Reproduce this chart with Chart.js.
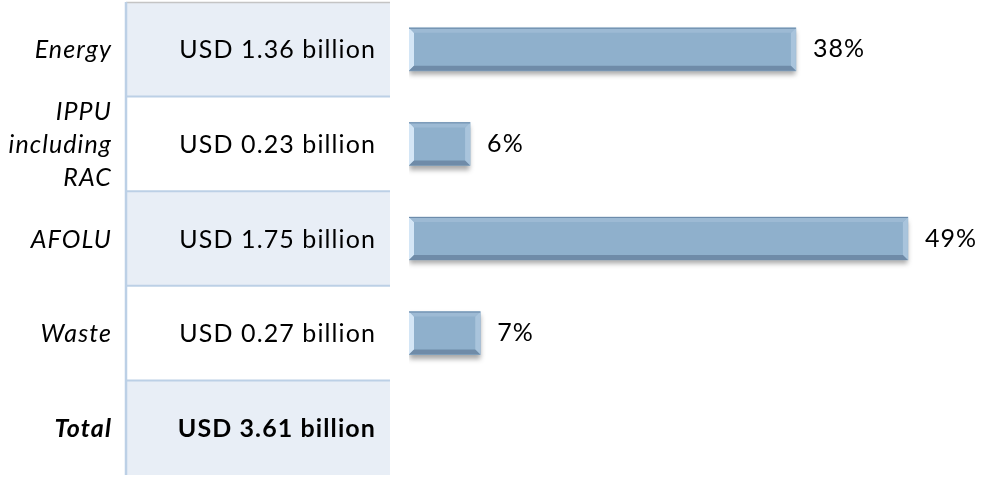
<!DOCTYPE html>
<html>
<head>
<meta charset="utf-8">
<title>Mitigation finance by sector</title>
<script src="https://cdn.jsdelivr.net/npm/chart.js@4/dist/chart.umd.min.js"></script>
<style>
  html, body { margin: 0; padding: 0; background: #fff; }
  #wrap { width: 983px; height: 477px; position: relative; }
</style>
</head>
<body>
<div id="wrap"><canvas id="canvas"></canvas></div>
<script>
// sectors, the amounts shown in the table column and each sector's share of the total
var sectors = ['Energy', ['IPPU', 'including', 'RAC'], 'AFOLU', 'Waste', 'Total'];
var amounts = ['USD 1.36 billion', 'USD 0.23 billion', 'USD 1.75 billion', 'USD 0.27 billion', 'USD 3.61 billion'];
var shares = [38, 6, 49, 7, null];

var FONT = 'Lato, "Open Sans", sans-serif';
var SIZE = '25px ';
var SPACING = '1.1px';
var TABLE_LEFT = 126, TABLE_RIGHT = 390;

function setSpacing(ctx) {
    if ('letterSpacing' in ctx) ctx.letterSpacing = SPACING;
}

// table column on the left: shaded rows, borders, sector names and amounts
var tablePlugin = {
    id: 'table',
    beforeDatasetsDraw: function(chart) {
        var ctx = chart.ctx, y = chart.scales.y;
        var step = y.getPixelForValue(1) - y.getPixelForValue(0);
        ctx.save();
        setSpacing(ctx);
        sectors.forEach(function(name, i) {
            var cy = y.getPixelForValue(i);
            var top = cy - step / 2, bottom = cy + step / 2;
            if (i % 2 === 0) {
                ctx.fillStyle = '#e8eef6';
                ctx.fillRect(TABLE_LEFT, top, TABLE_RIGHT - TABLE_LEFT, bottom - top);
            }
            if (i > 0) {
                ctx.strokeStyle = '#bcd0e6';
                ctx.lineWidth = 2;
                ctx.beginPath();
                ctx.moveTo(TABLE_LEFT, top);
                ctx.lineTo(TABLE_RIGHT, top);
                ctx.stroke();
            }
            var isTotal = i === sectors.length - 1;
            ctx.fillStyle = '#000';
            ctx.textBaseline = 'middle';

            // amount
            ctx.textAlign = 'right';
            ctx.font = (isTotal ? 'bold ' : '') + SIZE + FONT;
            ctx.fillText(amounts[i], 376, cy + 1);

            // sector name, italic, may span several lines
            ctx.font = 'italic ' + (isTotal ? 'bold ' : '') + SIZE + FONT;
            var lines = Array.isArray(name) ? name : [name];
            var lh = 33;
            lines.forEach(function(line, k) {
                ctx.fillText(line, 112, cy + 1 + (k - (lines.length - 1) / 2) * lh);
            });
        });
        // top edge and left rule of the table
        var first = y.getPixelForValue(0) - step / 2;
        var last = y.getPixelForValue(sectors.length - 1) + step / 2;
        ctx.strokeStyle = '#c4c4c4';
        ctx.lineWidth = 1.5;
        ctx.beginPath();
        ctx.moveTo(TABLE_LEFT, first + 0.5);
        ctx.lineTo(TABLE_RIGHT, first + 0.5);
        ctx.stroke();
        ctx.strokeStyle = '#bcd0e6';
        ctx.lineWidth = 2.5;
        ctx.beginPath();
        ctx.moveTo(TABLE_LEFT, first);
        ctx.lineTo(TABLE_LEFT, last);
        ctx.stroke();
        ctx.restore();
    },
    // soft drop shadow under the bars
    beforeDatasetDraw: function(chart) {
        var ctx = chart.ctx;
        ctx.save();
        ctx.shadowColor = 'rgba(0,0,0,0.35)';
        ctx.shadowBlur = 5;
        ctx.shadowOffsetY = 4;
    },
    afterDatasetDraw: function(chart) {
        chart.ctx.restore();
    },
    // bevel edges and the percentage labels
    afterDatasetsDraw: function(chart) {
        var ctx = chart.ctx;
        var meta = chart.getDatasetMeta(0);
        ctx.save();
        meta.data.forEach(function(bar, i) {
            if (shares[i] == null) return;
            var l = Math.min(bar.base, bar.x), r = Math.max(bar.base, bar.x);
            var t = bar.y - bar.height / 2, b = bar.y + bar.height / 2;
            var e = 5;
            function poly(pts, color) {
                ctx.fillStyle = color;
                ctx.beginPath();
                ctx.moveTo(pts[0][0], pts[0][1]);
                for (var k = 1; k < pts.length; k++) ctx.lineTo(pts[k][0], pts[k][1]);
                ctx.closePath();
                ctx.fill();
            }
            poly([[l, t], [l + e, t + e], [l + e, b - e], [l, b]], '#d4e6f6');
            poly([[r, t], [r - e, t + e], [r - e, b - e], [r, b]], '#a9c4dc');
            poly([[l, b], [l + e, b - e], [r - e, b - e], [r, b]], '#6f8ba8');
            poly([[l, t], [r, t], [r - e, t + e], [l + e, t + e]], '#9dbad4');
            ctx.strokeStyle = '#6d8cab';
            ctx.lineWidth = 1;
            ctx.beginPath();
            ctx.moveTo(l, t + 0.5);
            ctx.lineTo(r, t + 0.5);
            ctx.stroke();

            setSpacing(ctx);
            ctx.fillStyle = '#000';
            ctx.font = SIZE + FONT;
            ctx.textAlign = 'left';
            ctx.textBaseline = 'middle';
            ctx.fillText(shares[i] + '%', r + 17, bar.y);
        });
        ctx.restore();
    }
};

try {
    var ctx = document.getElementById('canvas').getContext('2d');
    var chart = new Chart(ctx, {
        type: 'bar',
        data: {
            labels: sectors,
            datasets: [{
                label: 'Share',
                data: shares,
                backgroundColor: '#8fb0cc',
                borderWidth: 0,
                barThickness: 43
            }]
        },
        options: {
            indexAxis: 'y',
            responsive: true,
            maintainAspectRatio: false,
            animation: false,
            layout: { padding: { left: 409, right: 14, top: 2, bottom: 2 } },
            scales: {
                x: { display: false, min: 0, max: 55 },
                y: { display: false }
            },
            plugins: {
                legend: { display: false },
                tooltip: { enabled: false }
            }
        },
        plugins: [tablePlugin]
    });
} catch (e) {
    console.log(e.message);
}
</script>
</body>
</html>
